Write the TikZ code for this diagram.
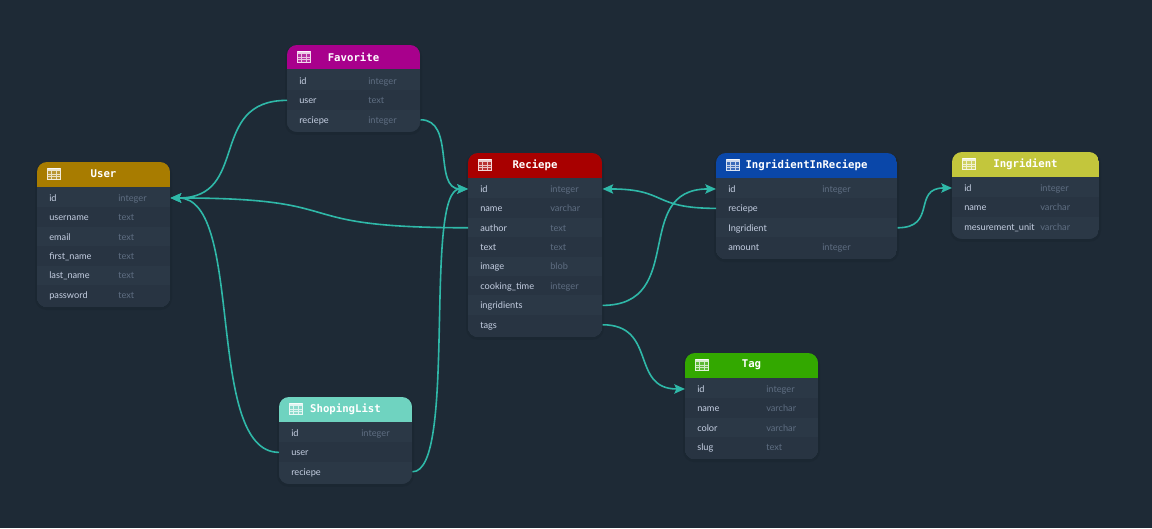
\documentclass[tikz,border=0pt]{standalone}
\usepackage{fontspec}
\setmainfont{Lato}
\newfontfamily\headfont{DejaVu Sans Mono}
\usetikzlibrary{arrows.meta}

\definecolor{bgcol}{HTML}{1E2A36}
\definecolor{rowlight}{HTML}{2B3846}
\definecolor{rowdark}{HTML}{283442}
\definecolor{linkcol}{HTML}{2FB8A8}
\definecolor{namecol}{HTML}{C5CFE2}
\definecolor{typecol}{HTML}{5F6E82}
\definecolor{usercol}{HTML}{A87C00}
\definecolor{favcol}{HTML}{A8008C}
\definecolor{reccol}{HTML}{A80000}
\definecolor{iircol}{HTML}{0A47A9}
\definecolor{ingcol}{HTML}{C3C63C}
\definecolor{tagcol}{HTML}{33A800}
\definecolor{shopcol}{HTML}{6FD3C0}

\tikzset{
    rownode/.style={anchor=north west,inner sep=0pt,minimum height=14.55pt},
    fieldname/.style={anchor=base west,inner sep=0pt,text=namecol,font=\fontsize{6.9}{8}\selectfont},
    fieldtype/.style={anchor=base west,inner sep=0pt,text=typecol,font=\fontsize{6.9}{8}\selectfont},
    headnode/.style={inner sep=0pt,font=\headfont\bfseries\fontsize{8}{10}\selectfont},
    tableicon/.style={draw=white,draw opacity=.85,line width=.5pt,fill=white,fill opacity=.2},
    iconline/.style={draw=white,draw opacity=.7,line width=.35pt},
    link/.style={draw=linkcol,line width=1.2pt,-{Stealth[length=8pt,width=7pt,inset=1.5pt]}}
}

% #1 name, #2 x, #3 y, #4 width, #5 type column, #6 colour, #7 title, #8 row count, #9 rows
\newcommand{\erdtable}[9]{
    \pgfmathsetmacro{\tablebottom}{#3+28.6+#8*19.4}
    \fill[black,opacity=.07,rounded corners=8.5pt] (#2-2,#3) rectangle (#2+#4+2,\tablebottom+3);
    \begin{scope}
        \clip[rounded corners=7.5pt] (#2,#3) rectangle (#2+#4,\tablebottom);
        \fill[rowlight] (#2,#3) rectangle (#2+#4,\tablebottom);
        \foreach \fname/\ftype [count=\i] in {#9} {
            \pgfmathsetmacro{\rowtop}{#3+26+(\i-1)*19.4}
            \ifodd\i \def\bandcol{rowlight}\else\def\bandcol{rowdark}\fi
            \fill[\bandcol] (#2,\rowtop) rectangle (#2+#4,\tablebottom);
        }
        \fill[#6] (#2,#3) rectangle (#2+#4,#3+24.5);
    \end{scope}
    \foreach \fname/\ftype [count=\i] in {#9} {
        \pgfmathsetmacro{\rowtop}{#3+26+(\i-1)*19.4}
        \node[rownode,minimum width=#4*.75pt] (#1-\i) at (#2,\rowtop) {};
        \node[fieldname] (#1-\i-n) at (#2+12,\rowtop+13.3) {\fname};
        \node[fieldtype] (#1-\i-t) at (#2+#5,\rowtop+13.3) {\ftype};
    }
    \node[headnode,text=white] (#1-h) at (#2+#4/2,#3+12) {#7};
    \filldraw[tableicon] (#2+10.5,#3+6) rectangle (#2+23,#3+17);
    \draw[iconline] (#2+10.5,#3+12) -- (#2+23,#3+12) (#2+10.5,#3+14.5) -- (#2+23,#3+14.5)
        (#2+14.6,#3+9) -- (#2+14.6,#3+17) (#2+18.8,#3+9) -- (#2+18.8,#3+17);
    \fill[white,opacity=.75] (#2+10.5,#3+6) rectangle (#2+23,#3+9);
}

\begin{document}
\begin{tikzpicture}[x=.75pt,y=-.75pt]

    \fill[bgcol] (0,0) rectangle (1152,528);

    \erdtable{user}{37}{162}{133}{81}{usercol}{User}{6}
        {id/integer,username/text,email/text,first\_name/text,last\_name/text,password/text}
    \erdtable{favorite}{287}{45}{133}{81}{favcol}{Favorite}{3}
        {id/integer,user/text,reciepe/integer}
    \erdtable{reciepe}{468}{153}{134}{82}{reccol}{Reciepe}{8}
        {id/integer,name/varchar,author/text,text/text,image/blob,cooking\_time/integer,ingridients/,tags/}
    \erdtable{iir}{716}{153}{181}{106}{iircol}{IngridientInReciepe}{4}
        {id/integer,reciepe/,Ingridient/,amount/integer}
    \erdtable{ingridient}{952}{152}{147}{88}{ingcol}{Ingridient}{3}
        {id/integer,name/varchar,mesurement\_unit/varchar}
    \erdtable{tag}{685}{353}{133}{81}{tagcol}{Tag}{4}
        {id/integer,name/varchar,color/varchar,slug/text}
    \erdtable{shop}{279}{397}{133}{82}{shopcol}{ShopingList}{3}
        {id/integer,user/,reciepe/}

    \draw[link] (favorite-2.west) .. controls +(-80,0) and +(80,0) .. (user-1.east);
    \draw[link] (reciepe-3.west) .. controls +(-190,0) and +(190,0) .. (user-1.east);
    \draw[link] (shop-2.west) .. controls +(-75,0) and +(75,0) .. (user-1.east);
    \draw[link] (favorite-3.east) .. controls +(35,0) and +(-35,0) .. (reciepe-1.west);
    \draw[link] (shop-3.east) .. controls +(45,0) and +(-45,0) .. (reciepe-1.west);
    \draw[link] (iir-2.west) .. controls +(-65,0) and +(65,0) .. (reciepe-1.east);
    \draw[link] (reciepe-7.east) .. controls +(85,0) and +(-85,0) .. (iir-1.west);
    \draw[link] (reciepe-8.east) .. controls +(55,0) and +(-55,0) .. (tag-1.west);
    \draw[link] (iir-3.east) .. controls +(40,0) and +(-40,0) .. (ingridient-1.west);

\end{tikzpicture}
\end{document}
